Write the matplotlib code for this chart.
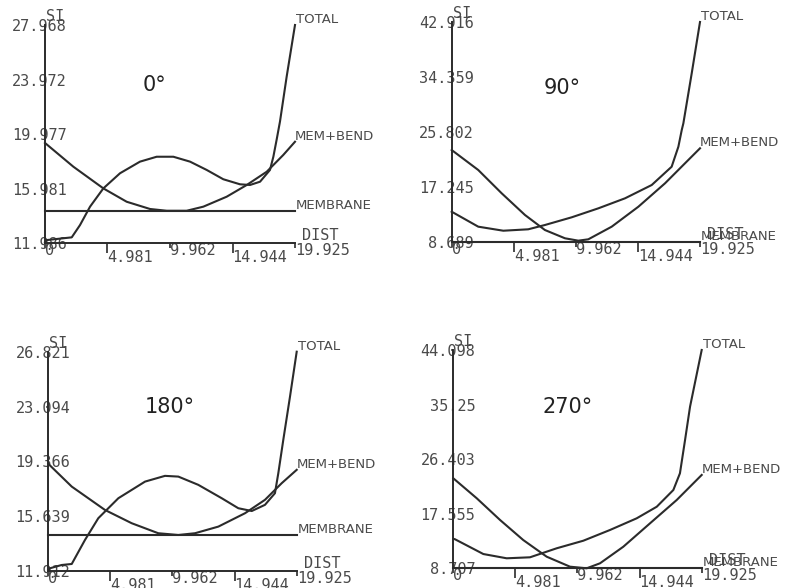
import matplotlib.pyplot as plt

# shared x axis (DIST)
x_ticks = [0, 4.981, 9.962, 14.944, 19.925]
x_labels = ["0", "4.981", "9.962", "14.944", "19.925"]

# y tick labels of each panel (SI)
y_ticks_0 = [11.986, 15.981, 19.977, 23.972, 27.968]
y_ticks_90 = [8.689, 17.245, 25.802, 34.359, 42.916]
y_ticks_180 = [11.912, 15.639, 19.366, 23.094, 26.821]
y_ticks_270 = [8.707, 17.555, 26.403, 35.25, 44.098]
y_labels_0 = ["11.986", "15.981", "19.977", "23.972", "27.968"]
y_labels_90 = ["8.689", "17.245", "25.802", "34.359", "42.916"]
y_labels_180 = ["11.912", "15.639", "19.366", "23.094", "26.821"]
y_labels_270 = ["8.707", "17.555", "26.403", "35.25", "44.098"]

# membrane stress (constant)
membrane = [14.33, 8.689, 14.33, 8.707]

# 0 deg
x_tot_0 = [0, 0.13, 2.13, 2.79, 3.59, 4.65, 5.98, 7.57, 8.90, 10.23, 11.56, 12.89, 14.21, 15.54,
           16.34, 17.14, 17.93, 18.20, 18.47, 18.73, 19.26, 19.925]
y_tot_0 = [12.05, 12.2, 12.40, 13.30, 14.65, 15.99, 17.10, 17.95, 18.31, 18.31, 17.95, 17.34, 16.66, 16.29,
           16.24, 16.48, 17.34, 18.31, 19.6, 20.9, 24.18, 27.968]
x_mb_0 = [0, 2.26, 4.65, 6.51, 8.37, 9.70, 11.29, 12.62, 14.48, 16.08, 17.67, 18.99, 19.925]
y_mb_0 = [19.32, 17.58, 15.99, 15.01, 14.48, 14.35, 14.35, 14.65, 15.38, 16.24, 17.21, 18.44, 19.41]

# 90 deg
x_tot_90 = [0, 2.13, 4.14, 6.14, 7.48, 9.63, 11.77, 13.91, 16.05, 17.65, 18.19, 18.46, 18.59, 19.26, 19.925]
y_tot_90 = [13.36, 11.03, 10.40, 10.62, 11.29, 12.49, 13.89, 15.45, 17.52, 20.37, 23.49, 26.09, 27.13, 34.92, 42.916]
x_mb_90 = [0, 2.13, 4.01, 5.88, 7.48, 9.09, 10.16, 10.96, 12.84, 14.98, 17.12, 18.72, 19.925]
y_mb_90 = [22.97, 19.86, 16.23, 12.85, 10.51, 9.22, 8.85, 9.06, 11.03, 14.14, 17.79, 20.90, 23.24]

# 180 deg
x_tot_180 = [0, 0.14, 1.07, 1.88, 2.94, 4.01, 5.62, 7.76, 9.36, 10.43, 12.03, 13.91, 15.24, 16.32,
             17.38, 18.18, 18.45, 18.85, 19.39, 19.925]
y_tot_180 = [11.98, 12.10, 12.32, 12.39, 14.02, 15.50, 16.86, 17.99, 18.38, 18.33, 17.77, 16.86, 16.18, 15.99,
             16.41, 17.20, 18.56, 20.83, 23.78, 26.821]
x_mb_180 = [0, 1.88, 4.55, 6.69, 8.82, 10.43, 11.77, 13.64, 15.78, 17.38, 18.72, 19.925]
y_mb_180 = [19.2, 17.65, 16.06, 15.16, 14.48, 14.36, 14.48, 14.93, 15.84, 16.75, 17.88, 18.79]

# 270 deg
x_tot_270 = [0, 0.14, 2.41, 4.28, 6.15, 8.29, 10.43, 12.57, 14.71, 16.32, 17.65, 18.18, 18.59, 18.99, 19.925]
y_tot_270 = [13.5, 13.41, 11.02, 10.33, 10.49, 11.95, 13.18, 14.92, 16.81, 18.69, 21.40, 24.11, 29.51, 34.91, 44.098]
x_mb_270 = [0, 1.88, 3.75, 5.61, 7.49, 9.36, 10.70, 11.77, 13.64, 15.78, 17.92, 19.925]
y_mb_270 = [23.30, 20.06, 16.54, 13.29, 10.59, 8.97, 8.707, 9.52, 12.21, 16.00, 19.78, 23.84]

angles = ["0°", "90°", "180°", "270°"]

W, H = 785, 588
ink = "#2b2b2b"
grey = "#4a4a4a"

fig = plt.figure(figsize=(W / 100, H / 100), dpi=100)
fig.patch.set_facecolor("white")

# axes boxes in pixels: left, top, right, bottom
boxes = [(45, 25, 295, 243), (451.7, 22, 700, 241.7),
         (48.3, 351.7, 296.7, 571), (453.3, 350, 701.7, 568.3)]
angle_pos = [(0.39, 0.725), (0.37, 0.70), (0.39, 0.75), (0.36, 0.74)]

panels = [
    (y_ticks_0, y_labels_0, x_tot_0, y_tot_0, x_mb_0, y_mb_0),
    (y_ticks_90, y_labels_90, x_tot_90, y_tot_90, x_mb_90, y_mb_90),
    (y_ticks_180, y_labels_180, x_tot_180, y_tot_180, x_mb_180, y_mb_180),
    (y_ticks_270, y_labels_270, x_tot_270, y_tot_270, x_mb_270, y_mb_270),
]

mono = "DejaVu Sans Mono"
px = 0.72  # points per pixel at 100 dpi

for i, (yt, yl, xt, yt_, xm, ym) in enumerate(panels):
    l, t, r, b = boxes[i]
    ax = fig.add_axes([l / W, (H - b) / H, (r - l) / W, (b - t) / H])
    ax.set_facecolor("none")
    ax.set_xlim(0, x_ticks[-1])
    ax.set_ylim(yt[0], yt[-1])
    for s in ["top", "right"]:
        ax.spines[s].set_visible(False)
    for s in ["left", "bottom"]:
        ax.spines[s].set_color(ink)
        ax.spines[s].set_linewidth(1.4)

    # y labels sit across the axis line, like the plotter output
    ax.set_yticks(yt, yl)
    ax.tick_params(axis="y", length=0, pad=-22 * px, labelsize=11, labelcolor=grey)
    for lab in ax.get_yticklabels():
        lab.set_family(mono)

    # alternating long / short ticks with staggered labels
    ax.set_xticks([x_ticks[1], x_ticks[3]], [x_labels[1], x_labels[3]])
    ax.set_xticks([x_ticks[0], x_ticks[2], x_ticks[4]],
                  [x_labels[0], x_labels[2], x_labels[4]], minor=True)
    ax.tick_params(axis="x", which="major", direction="out", length=10 * px,
                   width=1.2, color=ink, pad=-3 * px, labelsize=11, labelcolor=grey)
    ax.tick_params(axis="x", which="minor", direction="out", length=5 * px,
                   width=1.2, color=ink, pad=-5 * px, labelsize=11, labelcolor=grey)
    for lab in ax.get_xticklabels() + ax.get_xticklabels(minor=True):
        lab.set_family(mono)
        lab.set_horizontalalignment("left")

    xe = x_ticks[-1]
    ax.plot(xt, yt_, color=ink, lw=1.5, clip_on=False)
    ax.plot(xm, ym, color=ink, lw=1.5, clip_on=False)
    ax.plot([0, xe], [membrane[i], membrane[i]], color=ink, lw=1.5, clip_on=False)

    lab_kw = dict(textcoords="offset points", ha="left", va="bottom",
                  fontsize=9.5, color=grey, family="DejaVu Sans")
    ax.annotate("TOTAL", (xe, yt_[-1]), xytext=(1 * px, -1 * px), **lab_kw)
    ax.annotate("MEM+BEND", (xe, ym[-1]), xytext=(0, -1 * px), **lab_kw)
    ax.annotate("MEMBRANE", (xe, membrane[i]), xytext=(1 * px, -1 * px), **lab_kw)
    ax.annotate("DIST", (xe, yt[0]), xytext=(7 * px, 0), textcoords="offset points",
                ha="left", va="bottom", fontsize=11, color=grey, family=mono)
    ax.annotate("SI", (0, yt[-1]), xytext=(1 * px, 1 * px), textcoords="offset points",
                ha="left", va="bottom", fontsize=11, color=grey, family=mono)

    ax.text(angle_pos[i][0], angle_pos[i][1], angles[i], transform=ax.transAxes,
            ha="left", va="center", fontsize=15, color="#222222")

fig.savefig("out.png", dpi=100, facecolor="white")
